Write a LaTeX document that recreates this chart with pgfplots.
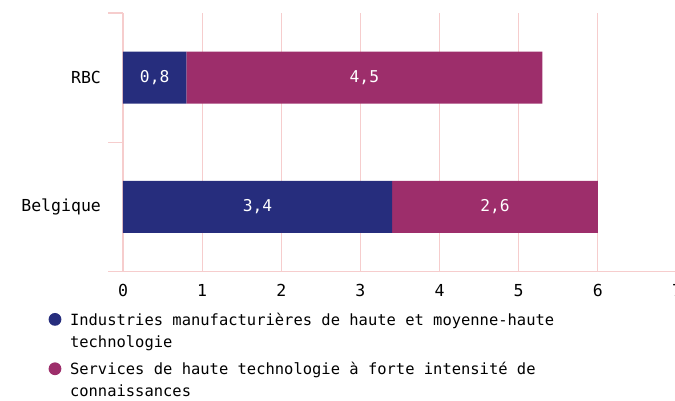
\documentclass[border=0pt]{standalone}
\usepackage{fontspec}
\setmainfont{DejaVu Sans Mono}
\usepackage{pgfplots}
\pgfplotsset{compat=1.18}
\definecolor{navy}{RGB}{38,45,125}
\definecolor{plum}{RGB}{157,46,107}
\definecolor{gridpink}{RGB}{246,205,205}
\begin{document}
\begin{tikzpicture}[font=\fontsize{11.6pt}{16.5pt}\selectfont]
\begin{axis}[
  at={(0,0)}, anchor=south west,
  scale only axis, width=415.5pt, height=193.9pt,
  xbar stacked, bar width=39pt,
  xmin=0, xmax=7, ymin=-0.5, ymax=1.5,
  axis x line=bottom, axis y line=left,
  axis line style={draw=gridpink, line width=1pt, -},
  xtick={0,1,2,3,4,5,6,7}, major tick length=0pt,
  xmajorgrids, grid style={gridpink, line width=0.8pt},
  ytick={0,1}, yticklabels={Belgique,RBC},
  yticklabel style={xshift=-13pt, font=\fontsize{12.4pt}{15pt}\selectfont},
  xticklabel style={yshift=-6pt, font=\fontsize{12.4pt}{15pt}\selectfont},
  extra y ticks={-0.5,0.5,1.5}, extra y tick labels={},
  extra y tick style={major tick length=11pt, tick align=outside, tick style={gridpink, line width=1pt}},
  /pgf/number format/assume math mode=true,
  legend style={at={(0,0)}, anchor=north west, xshift=-59pt, yshift=-27.1pt, draw=none, fill=none, row sep=5.75pt, column sep=4.5pt},
  legend cell align=left,
  legend image code/.code={\fill[#1, draw=none] (4.8pt,9pt) circle (4.8pt);},
]
\addplot[fill=navy, draw=none] coordinates {(3.4,0) (0.8,1)};
\addlegendentry{\parbox[b]{440pt}{Industries manufacturières de haute et moyenne-haute\\technologie}}
\addplot[fill=plum, draw=none] coordinates {(2.6,0) (4.5,1)};
\addlegendentry{\parbox[b]{440pt}{Services de haute technologie à forte intensité de\\connaissances}}
\end{axis}
\begin{axis}[
  at={(0,0)}, anchor=south west,
  scale only axis, width=415.5pt, height=193.9pt,
  xmin=0, xmax=7, ymin=-0.5, ymax=1.5, hide axis,
]
\addplot[draw=none, nodes near coords, point meta=explicit symbolic,
  every node near coord/.append style={anchor=center, text=white, font=\fontsize{12.2pt}{15pt}\selectfont}]
  coordinates {(0.4,1) [0{,}8] (3.05,1) [4{,}5] (1.7,0) [3{,}4] (4.7,0) [2{,}6]};
\end{axis}
\pgfresetboundingbox
\useasboundingbox (-92.25pt,-97.1pt) rectangle (414pt,203.6pt);
\end{tikzpicture}
\end{document}
